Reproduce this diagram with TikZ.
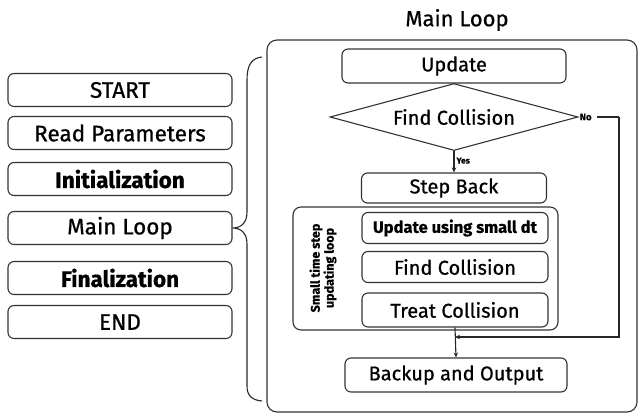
\documentclass[tikz,border=0pt]{standalone}
\usepackage{fontspec}
\setmainfont{Fira Sans}[FakeBold=0.7]
\usetikzlibrary{shapes.geometric,arrows.meta}
\begin{document}
\begin{tikzpicture}[x=1pt,y=-1pt,
 lbox/.style={draw=black!80,line width=1.1pt,rounded corners=6pt,minimum width=224pt,minimum height=33pt,inner sep=0pt,font=\fontsize{22.5}{25}\selectfont},
 fbox/.style={draw=black!80,line width=1.1pt,rounded corners=6pt,inner sep=0pt,font=\fontsize{20}{23}\selectfont},
 conn/.style={draw=black!85,line width=1.1pt},
 arr/.style={conn,-{Stealth[length=5pt,width=4.5pt]}}]
\useasboundingbox (0,0) rectangle (641,416);
% left column
\node[lbox] (start) at (120,90) {START};
\node[lbox] (read) at (120,133) {Read Parameters};
\node[lbox] (init) at (120,179) {\bfseries Initialization};
\node[lbox] (main) at (120,228) {Main Loop};
\node[lbox] (fin) at (120,278) {\bfseries Finalization};
\node[lbox] (end) at (120,322) {END};
% brace
\draw[conn] (262,57) .. controls (251,58) and (247,66) .. (247,80) -- (247,212)
  .. controls (247,223) and (241,228) .. (main.east)
  .. controls (241,228) and (247,233) .. (247,244) -- (247,386)
  .. controls (247,395) and (251,400) .. (262,401);
% main loop
\node[draw=black!80,line width=1.1pt,rounded corners=10pt,minimum width=370pt,minimum height=372pt] (outer) at (452,226) {};
\node[font=\fontsize{22}{25}\selectfont] (title) at (457,20) {Main Loop};
\node[fbox,minimum width=224pt,minimum height=34pt] (upd) at (454,66) {Update};
\node[draw=black!80,line width=1.1pt,diamond,aspect=3.7,minimum width=248pt,minimum height=67pt,inner sep=0pt,font=\fontsize{20}{23}\selectfont] (find) at (454,117) {Find Collision};
\node[fbox,minimum width=185pt,minimum height=30pt] (step) at (454,188) {Step Back};
\node[draw=black!80,line width=1.1pt,rounded corners=8pt,minimum width=265pt,minimum height=123pt] (small) at (425.5,268.5) {};
\node[rotate=90,align=center,font=\bfseries\fontsize{12.5}{14}\selectfont] (smalllbl) at (323,268) {Small time step\\updating loop};
\node[fbox,minimum width=186pt,minimum height=31pt,font=\bfseries\fontsize{16.5}{19}\selectfont] (upd2) at (455,228) {Update using small dt};
\node[fbox,minimum width=186pt,minimum height=31pt] (find2) at (455,267) {Find Collision};
\node[fbox,minimum width=186pt,minimum height=34pt] (treat) at (455,310) {Treat Collision};
\node[fbox,minimum width=222pt,minimum height=34pt] (backup) at (456,375) {Backup and Output};
% connectors
\draw[arr] (find.south) -- node[right,pos=0.45,font=\bfseries\fontsize{8.5}{10}\selectfont,inner sep=2pt] (yes) {Yes} (step.north);
\draw[arr] (treat.south) -- (backup.north);
\node[font=\bfseries\fontsize{9.5}{11}\selectfont,anchor=west,inner sep=1pt] (no) at (find.east) {No};
\coordinate (nr) at (619,117);
\coordinate (nb) at (619,337);
\draw[conn] ([xshift=4pt]no.east) -- (nr);
\draw[arr] (nr) -- (nb) -- (treat.south |- nb);
\end{tikzpicture}
\end{document}
